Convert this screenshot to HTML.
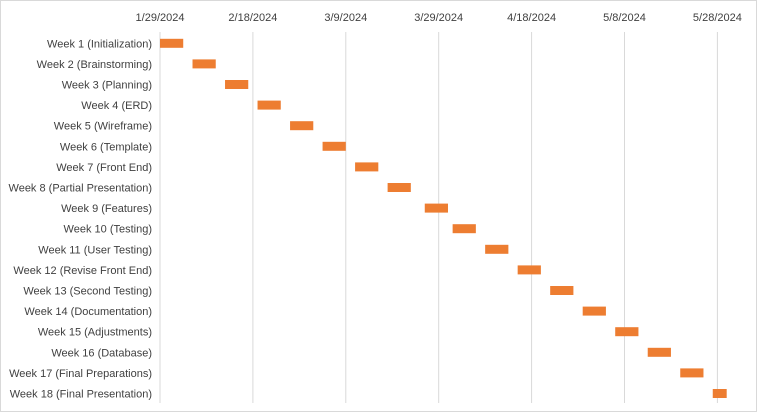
<!DOCTYPE html>
<html><head><meta charset="utf-8"><style>
body{margin:0;background:#fff}
svg text{font-family:"Liberation Sans",sans-serif;font-size:11px;fill:#404040}
</style></head><body>
<svg width="757" height="412" id="c">
<rect x="0.5" y="0.5" width="756" height="411" fill="#fff" stroke="#d9d9d9"/>
</svg>
<script>
const tasks=["Week 1 (Initialization)","Week 2 (Brainstorming)","Week 3 (Planning)","Week 4 (ERD)","Week 5 (Wireframe)","Week 6 (Template)","Week 7 (Front End)","Week 8 (Partial Presentation)","Week 9 (Features)","Week 10 (Testing)","Week 11 (User Testing)","Week 12 (Revise Front End)","Week 13 (Second Testing)","Week 14 (Documentation)","Week 15 (Adjustments)","Week 16 (Database)","Week 17 (Final Preparations)","Week 18 (Final Presentation)"];
const startDays=[0,7,14,21,28,35,42,49,57,63,70,77,84,91,98,105,112,119];
const durations=[5,5,5,5,5,5,5,5,5,5,5,5,5,5,5,5,5,3];
const tickDays=[0,20,40,60,80,100,120];
const tickLabels=["1/29/2024","2/18/2024","3/9/2024","3/29/2024","4/18/2024","5/8/2024","5/28/2024"];
const svg=document.getElementById('c');const NS="http://www.w3.org/2000/svg";
const x0=160,pxPerDay=4.645,yTop=33,rowH=20.6;
const xs=d=>x0+d*pxPerDay;const yc=i=>yTop+rowH*(i+0.5);
function mk(t,a){const e=document.createElementNS(NS,t);for(const k in a)e.setAttribute(k,a[k]);svg.appendChild(e);return e;}
tickDays.forEach((d,i)=>{
 const l=mk('line',{x1:xs(d),x2:xs(d),y1:32,y2:403,stroke:'#d9d9d9','stroke-width':1});
 
 
 const t=mk('text',{x:xs(d),y:21,'text-anchor':'middle'});t.textContent=tickLabels[i];
 
 
});
tasks.forEach((n,i)=>{
 const t=mk('text',{x:152,y:yc(i)+4,'text-anchor':'end'});t.textContent=n;
 
 
 const r=mk('rect',{x:xs(startDays[i]),y:yc(i)-4.5,width:durations[i]*pxPerDay,height:9,fill:'#ed7d31'});
 
 
});
</script>
</body></html>
